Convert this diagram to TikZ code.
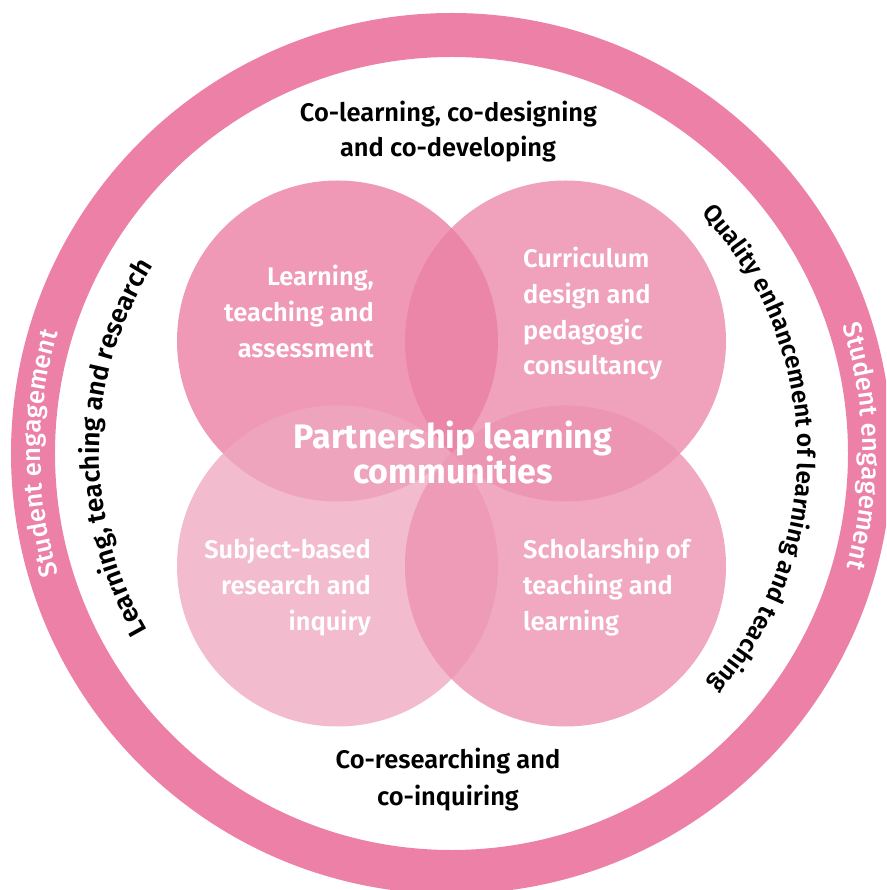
\documentclass[tikz,border=0pt]{standalone}
\usepackage{fontspec}
\usetikzlibrary{decorations.text}
\newfontfamily\fsemi{Fira Sans SemiBold}
\newfontfamily\fbold{Fira Sans Bold}
\newfontfamily\freg{Fira Sans Medium}
\definecolor{ringpink}{RGB}{236,128,167}
\definecolor{toppink}{RGB}{235,128,164}
\definecolor{blpink}{RGB}{238,168,192}
\definecolor{brpink}{RGB}{236,148,178}
\newlength\mylen
\newcommand\fitsize[4]{%
  \settowidth\mylen{#2\fontsize{10pt}{12pt}\selectfont #4}%
  \pgfmathsetmacro#1{10*#3/\mylen}}
\fitsize{\szA}{\fsemi}{297}{Co-learning, co-designing}
\fitsize{\szB}{\fbold}{318}{Partnership learning}
\fitsize{\szL}{\fsemi}{380}{Learning, teaching and research}
\fitsize{\szR}{\fsemi}{516}{Quality enhancement of learning and teaching}
\fitsize{\szS}{\freg}{244}{Student engagement}
\newcommand\Fa{\fsemi\fontsize{\szA pt}{\szA pt}\selectfont}
\newcommand\Fb{\fbold\fontsize{\szB pt}{\szB pt}\selectfont}
\newcommand\Fl{\fsemi\fontsize{\szL pt}{\szL pt}\selectfont}
\newcommand\Fr{\fsemi\fontsize{\szR pt}{\szR pt}\selectfont}
\newcommand\Fs{\freg\fontsize{\szS pt}{\szS pt}\selectfont}
\tikzset{
  blk/.style={inner sep=0pt, text=black, font=\Fa},
  wht/.style={inner sep=0pt, text=white, font=\Fa},
  ttl/.style={inner sep=0pt, text=white, font=\Fb},
}
\begin{document}
\begin{tikzpicture}[x=1pt,y=1pt]
\useasboundingbox (-451.5,-436.5) rectangle (434.5,453.5);
\clip (-451.5,-436.5) rectangle (434.5,453.5);
% outer ring
\fill[ringpink, even odd rule] (0,0) circle (440.5) (0,0) circle (396.5);
% four circles
\fill[toppink, fill opacity=0.80] (-114,112.5) circle (160.5);
\fill[toppink, fill opacity=0.74] (114,112.5) circle (160.5);
\fill[blpink, fill opacity=0.784] (-114,-112.5) circle (160.5);
\fill[brpink, fill opacity=0.80] (114,-112.5) circle (160.5);
% top and bottom texts
\node[blk, anchor=base] (top1) at (-3,331.8) {Co-learning, co-designing};
\node[blk, anchor=base] (top2) at (-3.5,296.8) {and co-developing};
\node[blk, anchor=base] (bot1) at (-3.5,-314.8) {Co-researching and};
\node[blk, anchor=base] (bot2) at (-3.5,-351.5) {co-inquiring};
% circle labels
\node[wht, anchor=base east] (tl1) at (-77.5,167.5) {Learning,};
\node[wht, anchor=base east] (tl2) at (-77.5,131.7) {teaching and};
\node[wht, anchor=base east] (tl3) at (-77.5,96) {assessment};
\node[wht, anchor=base west] (tr1) at (71.5,185.5) {Curriculum};
\node[wht, anchor=base west] (tr2) at (71.5,149.5) {design and};
\node[wht, anchor=base west] (tr3) at (71.5,114) {pedagogic};
\node[wht, anchor=base west] (tr4) at (71.5,78.5) {consultancy};
\node[wht, anchor=base east] (bl1) at (-80.5,-105.1) {Subject-based};
\node[wht, anchor=base east] (bl2) at (-80.5,-140.8) {research and};
\node[wht, anchor=base east] (bl3) at (-80.5,-176.5) {inquiry};
\node[wht, anchor=base west] (br1) at (71.5,-105.1) {Scholarship of};
\node[wht, anchor=base west] (br2) at (71.5,-140.8) {teaching and};
\node[wht, anchor=base west] (br3) at (71.5,-176.5) {learning};
% centre title
\node[ttl, anchor=base] (c1) at (1.5,4.5) {Partnership learning};
\node[ttl, anchor=base] (c2) at (1.5,-30.5) {communities};
% curved texts
\path[decorate, decoration={text along path, text align=center,
  text={|\Fl|Learning, teaching and research}}]
  (239:352) arc[start angle=239, end angle=119, radius=352];
\path[decorate, decoration={text along path, text align=center,
  text={|\Fr|Quality enhancement of learning and teaching}}]
  (61:346) arc[start angle=61, end angle=-59, radius=346];
\path[decorate, decoration={text along path, text align=center,
  text={|\color{white}\Fs|Student engagement}}]
  (240:411) arc[start angle=240, end angle=120, radius=411];
\path[decorate, decoration={text along path, text align=center,
  text={|\color{white}\Fs|Student engagement}}]
  (61:411) arc[start angle=61, end angle=-59, radius=411];
\end{tikzpicture}
\end{document}
